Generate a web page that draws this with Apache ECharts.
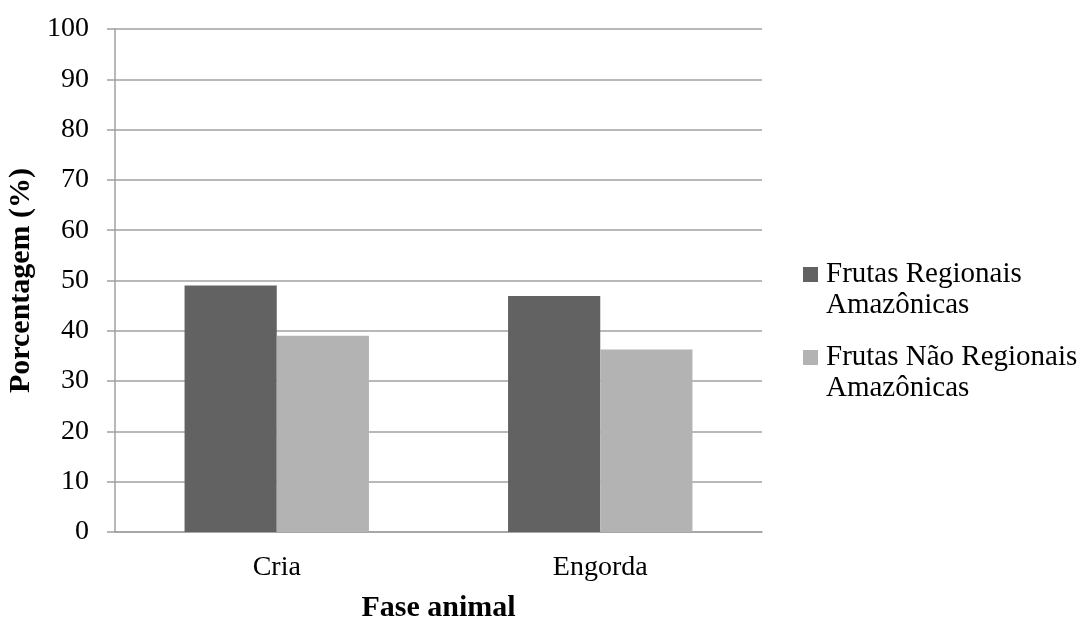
<!DOCTYPE html>
<html><head><meta charset="utf-8">
<script src="https://cdn.jsdelivr.net/npm/echarts@6/dist/echarts.min.js"></script>
<style>html,body{margin:0;padding:0;background:#fff}#c{width:1081px;height:619px}</style>
</head><body><div id="c"></div>
<script>
const categories = ['Cria', 'Engorda'];
const seriesNames = ['Frutas Regionais\nAmazônicas', 'Frutas Não Regionais\nAmazônicas'];
const regionais = [49.0, 46.9];
const naoRegionais = [39.0, 36.3];
const yTicks = [0, 10, 20, 30, 40, 50, 60, 70, 80, 90, 100];

const font = 'Liberation Serif, Times New Roman, serif';
const chart = echarts.init(document.getElementById('c'));
chart.setOption({
  backgroundColor: '#fff',
  animation: false,
  grid: { left: 115, right: 319, top: 29, bottom: 87, containLabel: false, outerBoundsMode: 'none' },
  legend: {
    orient: 'vertical', left: 803, top: 228, padding: 0,
    itemWidth: 15, itemHeight: 15, itemGap: -10,
    icon: 'rect',
    formatter: function (n) { return ' \n' + n; },
    textStyle: { fontFamily: font, fontSize: 29, color: '#000', lineHeight: 31, padding: [0,0,0,3] },
    data: seriesNames
  },
  xAxis: {
    type: 'category', data: categories,
    name: 'Fase animal', nameLocation: 'middle', nameGap: 61,
    nameTextStyle: { fontFamily: font, fontSize: 30, fontWeight: 'bold', color: '#000' },
    axisLine: { lineStyle: { color: '#a0a0a0', width: 1.5 } },
    axisTick: { show: false },
    axisLabel: { fontFamily: font, fontSize: 28, color: '#000', margin: 22 }
  },
  yAxis: {
    type: 'value', min: yTicks[0], max: yTicks[yTicks.length-1], interval: 10,
    name: 'Porcentagem (%)', nameLocation: 'middle', nameGap: 68,
    nameTextStyle: { fontFamily: font, fontSize: 30, fontWeight: 'bold', color: '#000' },
    axisLine: { show: true, lineStyle: { color: '#a0a0a0', width: 1.5 } },
    axisTick: { show: true, length: 8, lineStyle: { color: '#a0a0a0', width: 1.5 } },
    axisLabel: { fontFamily: font, fontSize: 28, color: '#000', margin: 26 },
    splitLine: { lineStyle: { color: '#a0a0a0', width: 1.5 } }
  },
  series: [
    { name: seriesNames[0], type: 'bar', data: regionais, barGap: '0%', barCategoryGap: '43%',
      itemStyle: { color: '#626262' } },
    { name: seriesNames[1], type: 'bar', data: naoRegionais,
      itemStyle: { color: '#b3b3b3' } }
  ]
});
</script></body></html>
